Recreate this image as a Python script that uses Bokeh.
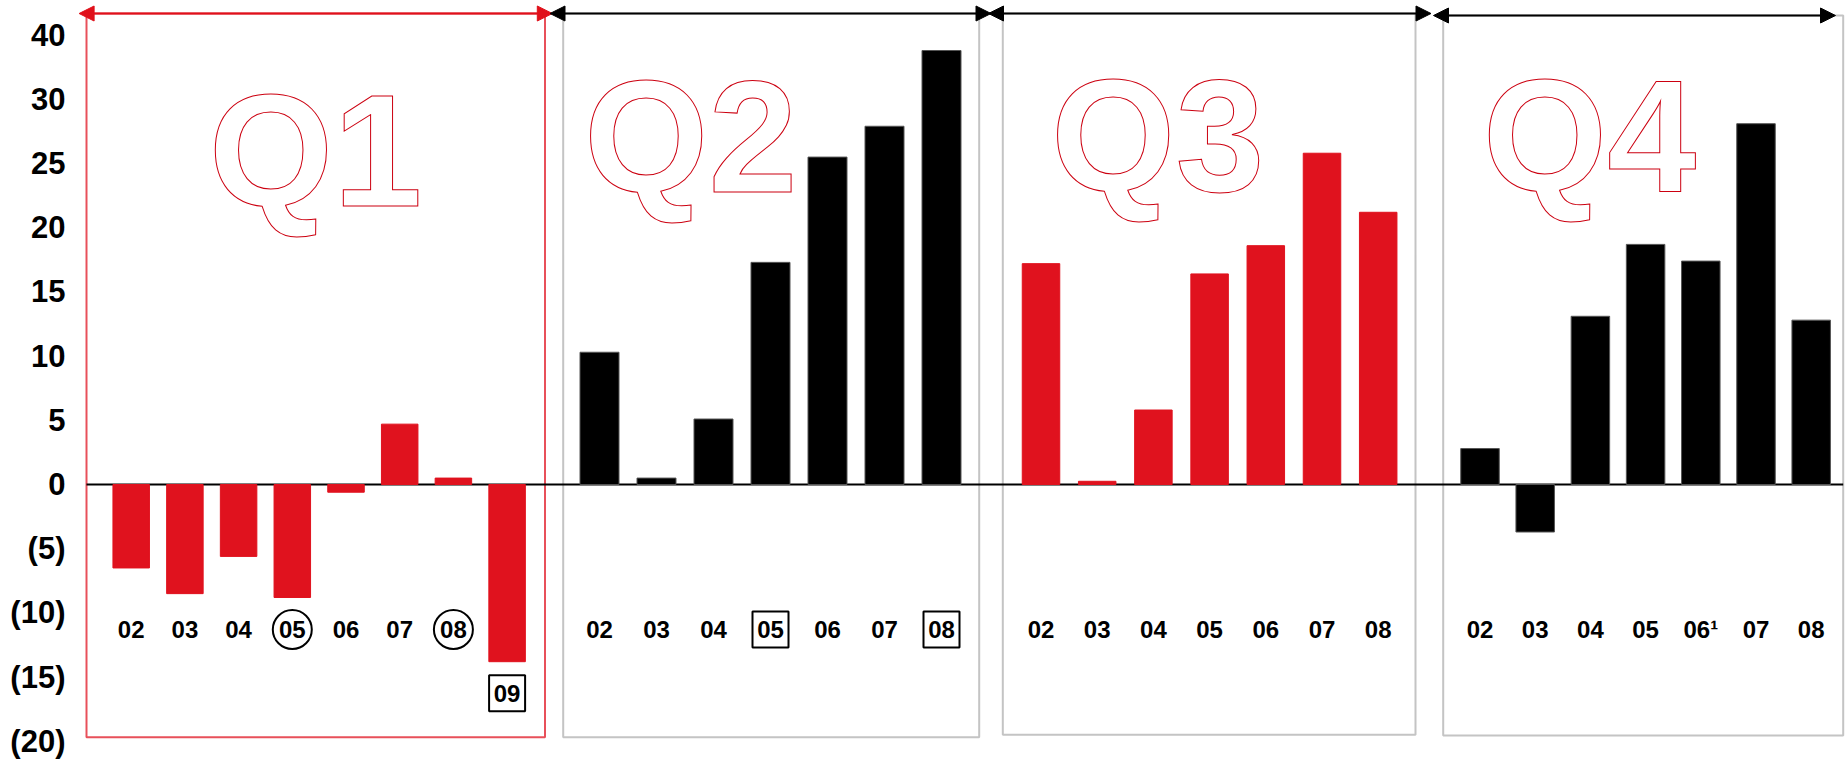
from bokeh.plotting import figure
from bokeh.models import Range1d, FixedTicker, Arrow, NormalHead, ColumnDataSource
from bokeh.core.properties import value
from bokeh.embed import file_html
from bokeh.resources import INLINE

# ---- data -------------------------------------------------------------
QUARTERS = ["Q1", "Q2", "Q3", "Q4"]

Q1_YEARS = ["02", "03", "04", "05", "06", "07", "08", "09"]
Q1_VALUES = [-6.5, -8.5, -5.6, -8.8, -0.6, 4.7, 0.5, -13.8]

Q2_YEARS = ["02", "03", "04", "05", "06", "07", "08"]
Q2_VALUES = [10.3, 0.5, 5.1, 17.3, 25.5, 27.9, 33.8]

Q3_YEARS = ["02", "03", "04", "05", "06", "07", "08"]
Q3_VALUES = [17.2, 0.25, 5.8, 16.4, 18.6, 25.8, 21.2]

Q4_YEARS = ["02", "03", "04", "05", "06\u00b9", "07", "08"]
Q4_VALUES = [2.8, -3.7, 13.1, 18.7, 17.4, 28.1, 12.8]

Y_TICKS = [-20, -15, -10, -5, 0, 5, 10, 15, 20, 25, 30, 35]
Y_TICK_LABELS = ["(20)", "(15)", "(10)", "(5)", "0", "5", "10", "15", "20", "25", "30", "40"]

CIRCLED = {"Q1": ["05", "08"]}
BOXED = {"Q1": ["09"], "Q2": ["05", "08"]}

# ---- styling / layout -------------------------------------------------
W, H = 1848, 763
FRAME_LEFT = 72
ZERO_PX = 484          # screen row of the value 0
PX_PER_UNIT = 12.84    # screen pixels per value unit

RED = "#e0121e"
BLACK = "#000000"
TITLE_RED = "#cc0010"
FONT = "Liberation Sans"


def yv(px):
    """Convert a screen row (from the top) into value units."""
    return (ZERO_PX - px) / PX_PER_UNIT


PANELS = [
    dict(left=86, right=544.5, top=13, bottom=736.7, frame="#e8505a",
         first=130.7, pitch=53.7, bar_w=36.5, bar_color=RED,
         title_x=315.0, title_mid=150, arrow=(78.6, 551.8, 13), arrow_color="#e0101a"),
    dict(left=562.7, right=978.7, top=13, bottom=736.7, frame="#c4c4c4",
         first=599.0, pitch=57.0, bar_w=39, bar_color=BLACK,
         title_x=690.3, title_mid=136, arrow=(549.5, 990.5, 13), arrow_color=BLACK),
    dict(left=1002.3, right=1415.0, top=13, bottom=734.3, frame="#c4c4c4",
         first=1040.5, pitch=56.2, bar_w=37.5, bar_color=RED,
         title_x=1157.3, title_mid=134.5, arrow=(988.0, 1430.5, 13), arrow_color=BLACK),
    dict(left=1442.7, right=1842.7, top=15, bottom=735.0, frame="#c4c4c4",
         first=1479.5, pitch=55.2, bar_w=38.5, bar_color=BLACK,
         title_x=1589.0, title_mid=135, arrow=(1433.0, 1835.0, 15), arrow_color=BLACK),
]

SERIES = [(Q1_YEARS, Q1_VALUES), (Q2_YEARS, Q2_VALUES),
          (Q3_YEARS, Q3_VALUES), (Q4_YEARS, Q4_VALUES)]

LABEL_ROW = yv(629)
LABEL_GAP = 2.45   # distance below a bar that reaches into the label row

# ---- figure -----------------------------------------------------------
p = figure(width=W, height=H,
           x_range=Range1d(FRAME_LEFT, W), y_range=Range1d(yv(H), yv(0)),
           x_axis_type=None, output_backend="svg", toolbar_location=None,
           min_border_left=FRAME_LEFT, min_border_right=0,
           min_border_top=0, min_border_bottom=0)
p.grid.visible = False
p.outline_line_color = None
p.background_fill_color = "white"
p.border_fill_color = "white"

ax = p.yaxis[0]
ax.ticker = FixedTicker(ticks=Y_TICKS)
ax.major_label_overrides = {t: lab for t, lab in zip(Y_TICKS, Y_TICK_LABELS)}
ax.axis_line_color = None
ax.major_tick_line_color = None
ax.minor_tick_line_color = None
ax.major_tick_out = 0
ax.major_label_standoff = 7
ax.major_label_text_font = FONT
ax.major_label_text_font_style = "bold"
ax.major_label_text_font_size = "31px"
ax.major_label_text_color = "black"

# panel frames
p.quad(left=[d["left"] for d in PANELS], right=[d["right"] for d in PANELS],
       top=[yv(d["top"]) for d in PANELS], bottom=[yv(d["bottom"]) for d in PANELS],
       fill_color=None, line_color=[d["frame"] for d in PANELS], line_width=2)

# big outlined quarter titles
p.text(x=[d["title_x"] for d in PANELS], y=[yv(d["title_mid"]) for d in PANELS],
       text=QUARTERS, text_font=value(FONT), text_font_style="bold",
       text_font_size="160px", text_color="white", text_outline_color=TITLE_RED,
       text_align="center", text_baseline="middle")

# zero line
p.segment(x0=[PANELS[0]["left"]], x1=[PANELS[-1]["right"]], y0=[0], y1=[0],
          line_color="black", line_width=2)

for q, d, (years, vals) in zip(QUARTERS, PANELS, SERIES):
    xs = [d["first"] + i * d["pitch"] for i in range(len(vals))]
    label_y = [min(LABEL_ROW, v - LABEL_GAP) for v in vals]
    src = ColumnDataSource(dict(x=xs, top=vals, year=years, ly=label_y))

    p.vbar(x="x", top="top", bottom=0, width=d["bar_w"], source=src,
           fill_color=d["bar_color"],
           line_color="#555555" if d["bar_color"] == BLACK else d["bar_color"],
           line_width=1)

    p.text(x="x", y="ly", text="year", source=src, text_font=value(FONT),
           text_font_style="bold", text_font_size="24px", text_color="black",
           text_align="center", text_baseline="middle")

    circ = [i for i, yr in enumerate(years) if yr in CIRCLED.get(q, [])]
    if circ:
        p.scatter(x=[xs[i] for i in circ], y=[label_y[i] for i in circ],
                  marker="circle", size=39, fill_color=None,
                  line_color="black", line_width=2)
    boxed = [i for i, yr in enumerate(years) if yr in BOXED.get(q, [])]
    if boxed:
        p.scatter(x=[xs[i] for i in boxed], y=[label_y[i] for i in boxed],
                  marker="square", size=36, fill_color=None,
                  line_color="black", line_width=2)

    a0, a1, ay = d["arrow"]
    c = d["arrow_color"]
    p.add_layout(Arrow(start=NormalHead(size=15, fill_color=c, line_color=c),
                       end=NormalHead(size=15, fill_color=c, line_color=c),
                       x_start=a0, x_end=a1, y_start=yv(ay), y_end=yv(ay),
                       line_color=c, line_width=2))

open("out.html", "w").write(file_html(p, INLINE))
